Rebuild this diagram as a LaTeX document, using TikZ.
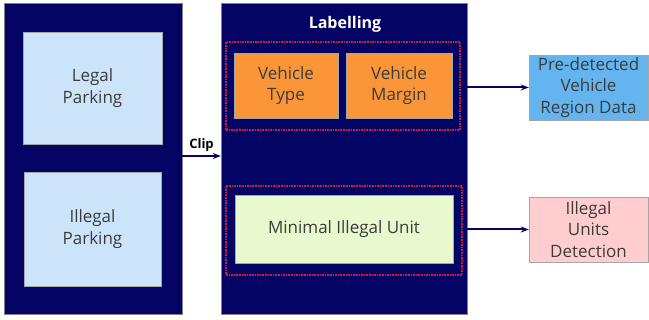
\documentclass[tikz,border=0pt]{standalone}
\usepackage{fontspec}
\setmainfont{Open Sans}
\usetikzlibrary{arrows.meta}
\definecolor{navy}{RGB}{4, 4, 100}
\definecolor{parkblue}{RGB}{204, 228, 250}
\definecolor{labelorange}{RGB}{250, 150, 55}
\definecolor{unitgreen}{RGB}{232, 250, 205}
\definecolor{dataBlue}{RGB}{100, 180, 240}
\definecolor{detectpink}{RGB}{255, 205, 205}
\definecolor{dotred}{RGB}{205, 30, 70}
\definecolor{txtgray}{RGB}{60, 60, 60}

\begin{document}
\begin{tikzpicture}[
    x=1pt, y=-1pt,
    panel/.style={draw=gray, fill=navy, inner sep=0pt},
    box/.style={draw=gray!70, inner sep=0pt, align=center, text=txtgray, font=\fontsize{17}{21.5}\selectfont},
    group/.style={draw=dotred, densely dotted, line width=1.6pt, inner sep=0pt},
    arrow/.style={-{Stealth[length=8pt,width=6pt]}, line width=2pt, navy}
  ]
    \useasboundingbox (0,0) rectangle (649,320);
    % panels
    \node[panel, minimum width=178pt, minimum height=311pt] (clips) at (93,158.5) {};
    \node[panel, minimum width=246pt, minimum height=311pt] (labelling) at (344,158.5) {};
    \node[font=\bfseries\fontsize{16}{18}\selectfont, text=white] (title) at (345,24) {Labelling};
    % clip panel
    \node[box, fill=parkblue, minimum width=139pt, minimum height=112pt] (legal) at (92.5,88) {Legal\\Parking};
    \node[box, fill=parkblue, minimum width=137pt, minimum height=114pt] (illegal) at (92.5,229) {Illegal\\Parking};
    % labelling panel
    \node[group, minimum width=234pt, minimum height=88pt] (topgroup) at (343,86) {};
    \node[group, minimum width=236pt, minimum height=89pt] (botgroup) at (344,230.5) {};
    \node[box, fill=labelorange, minimum width=104pt, minimum height=65pt] (vtype) at (286,85.5) {Vehicle\\Type};
    \node[box, fill=labelorange, minimum width=106pt, minimum height=65pt] (vmargin) at (399,85.5) {Vehicle\\Margin};
    \node[box, fill=unitgreen, minimum width=218pt, minimum height=68pt] (unit) at (344,229) {Minimal Illegal Unit};
    % outputs
    \node[box, fill=dataBlue, minimum width=119pt, minimum height=65pt] (regiondata) at (588.5,87.5) {Pre-detected\\Vehicle\\Region Data};
    \node[box, fill=detectpink, minimum width=119pt, minimum height=65pt] (detection) at (588.5,229.5) {Illegal\\Units\\Detection};
    % connectors
    \coordinate (clipin) at (labelling.west |- 0,156);
    \draw[arrow] (clips.east |- clipin) -- node[above, text=black, font=\bfseries\fontsize{13}{15}\selectfont] {Clip} (clipin);
    \draw[arrow] (labelling.east |- regiondata) -- (regiondata.west);
    \draw[arrow] (labelling.east |- detection) -- (detection.west);
  \end{tikzpicture}
\end{document}
